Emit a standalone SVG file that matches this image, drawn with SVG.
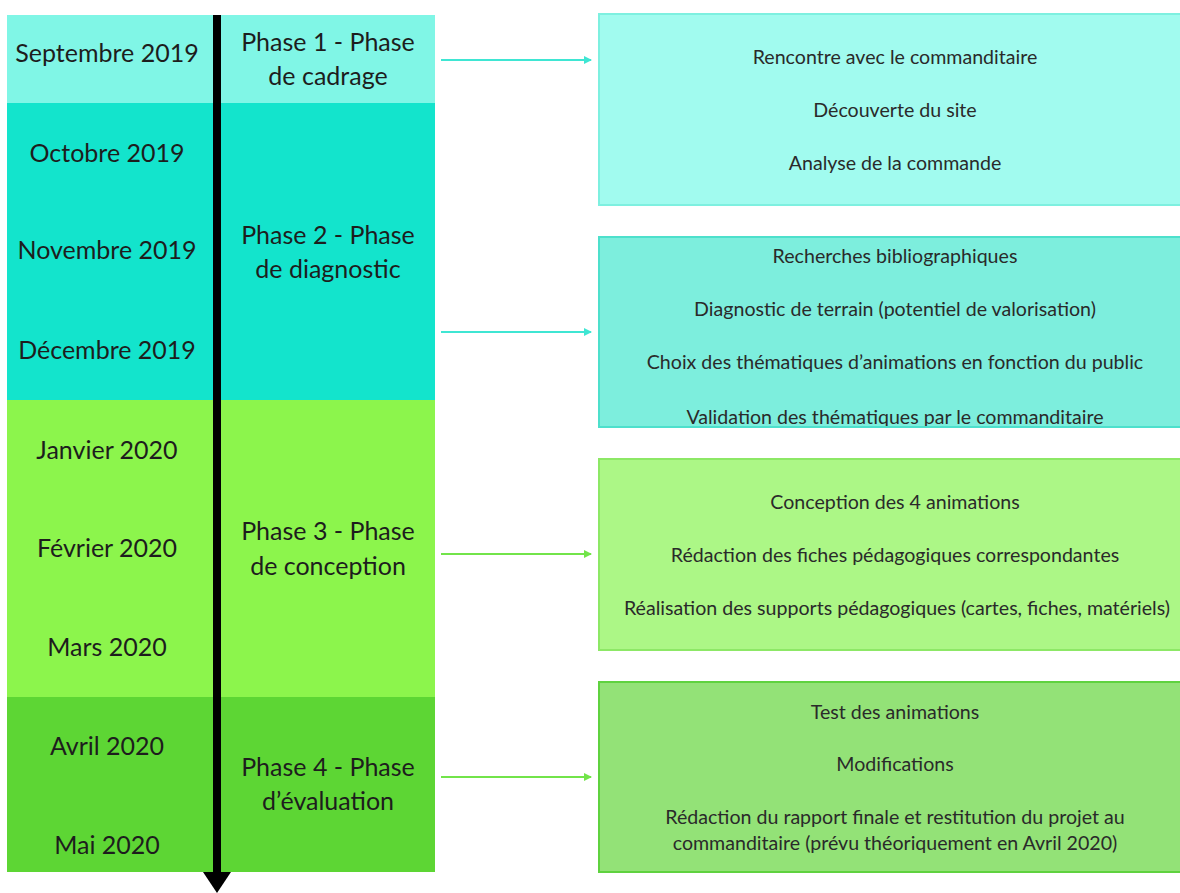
<svg xmlns="http://www.w3.org/2000/svg" width="1180" height="893" viewBox="0 0 1180 893">
<defs>
<style>
.m{font-family:Lato,"Open Sans","Liberation Sans",sans-serif;font-size:25px;fill:#1d1d1d;text-anchor:middle}
.t{font-family:Lato,"Open Sans","Liberation Sans",sans-serif;font-size:19.6px;fill:#2a2a2a;text-anchor:middle}
.tealc{stroke:#3fe6d3;stroke-width:2;fill:none}
.greenc{stroke:#72e44a;stroke-width:2;fill:none}
</style>
<marker id="ah1" markerWidth="8" markerHeight="8" refX="7" refY="4" orient="auto" markerUnits="userSpaceOnUse"><path d="M0,0 L8,4 L0,8 Z" fill="#3fe6d3"/></marker>
<marker id="ah2" markerWidth="8" markerHeight="8" refX="7" refY="4" orient="auto" markerUnits="userSpaceOnUse"><path d="M0,0 L8,4 L0,8 Z" fill="#72e44a"/></marker>
</defs>
<rect width="1180" height="893" fill="#ffffff"/>

<g id="phase1">
<rect x="7" y="15" width="206" height="88" fill="#80f6e6"/>
<rect x="221" y="15" width="214" height="88" fill="#80f6e6"/>
<text class="m" x="107" y="62">Septembre 2019</text>
<text class="m" x="328" y="51">Phase 1 - Phase</text>
<text class="m" x="328" y="85">de cadrage</text>
</g>
<g id="phase2">
<rect x="7" y="103" width="206" height="297" fill="#13e4cc"/>
<rect x="221" y="103" width="214" height="297" fill="#13e4cc"/>
<text class="m" x="107" y="162">Octobre 2019</text>
<text class="m" x="107" y="259">Novembre 2019</text>
<text class="m" x="107" y="359">Décembre 2019</text>
<text class="m" x="328" y="244">Phase 2 - Phase</text>
<text class="m" x="328" y="278">de diagnostic</text>
</g>
<g id="phase3">
<rect x="7" y="400" width="206" height="297" fill="#8cf54c"/>
<rect x="221" y="400" width="214" height="297" fill="#8cf54c"/>
<text class="m" x="107" y="459">Janvier 2020</text>
<text class="m" x="107" y="557">Février 2020</text>
<text class="m" x="107" y="656">Mars 2020</text>
<text class="m" x="328" y="540">Phase 3 - Phase</text>
<text class="m" x="328" y="575">de conception</text>
</g>
<g id="phase4">
<rect x="7" y="697" width="206" height="175" fill="#5dd634"/>
<rect x="221" y="697" width="214" height="175" fill="#5dd634"/>
<text class="m" x="107" y="755">Avril 2020</text>
<text class="m" x="107" y="854">Mai 2020</text>
<text class="m" x="328" y="776">Phase 4 - Phase</text>
<text class="m" x="328" y="810">d’évaluation</text>
</g>

<g id="timeline">
<rect x="213" y="15" width="8" height="860" fill="#000000"/>
<path d="M203,872 L231,872 L217,893 Z" fill="#000000"/>
</g>

<g id="box1">
<rect x="599" y="14" width="582" height="191" fill="#a1fbef" stroke="#7ef0e0" stroke-width="2"/>
<text class="t" x="895" y="64">Rencontre avec le commanditaire</text>
<text class="t" x="895" y="117">Découverte du site</text>
<text class="t" x="895" y="170">Analyse de la commande</text>
</g>
<g id="box2">
<rect x="599" y="237" width="582" height="190" fill="#7deedd" stroke="#4de0cc" stroke-width="2"/>
<text class="t" x="895" y="263">Recherches bibliographiques</text>
<text class="t" x="895" y="316">Diagnostic de terrain (potentiel de valorisation)</text>
<text class="t" x="895" y="369">Choix des thématiques d’animations en fonction du public</text>
<svg x="599" y="237" width="582" height="189" overflow="hidden"><text class="t" x="296" y="187">Validation des thématiques par le commanditaire</text></svg>
</g>
<g id="box3">
<rect x="599" y="459" width="582" height="191" fill="#acf786" stroke="#8de866" stroke-width="2"/>
<text class="t" x="895" y="509">Conception des 4 animations</text>
<text class="t" x="895" y="562">Rédaction des fiches pédagogiques correspondantes</text>
<text class="t" x="897" y="615">Réalisation des supports pédagogiques (cartes, fiches, matériels)</text>
</g>
<g id="box4">
<rect x="599" y="682" width="582" height="190" fill="#93e277" stroke="#5fd23f" stroke-width="2"/>
<text class="t" x="895" y="719">Test des animations</text>
<text class="t" x="895" y="771">Modifications</text>
<text class="t" x="895" y="824">Rédaction du rapport finale et restitution du projet au</text>
<text class="t" x="895" y="850">commanditaire (prévu théoriquement en Avril 2020)</text>
</g>

<g id="connectors">
<line class="tealc" x1="441" y1="60" x2="591" y2="60" marker-end="url(#ah1)"/>
<line class="tealc" x1="441" y1="332" x2="591" y2="332" marker-end="url(#ah1)"/>
<line class="greenc" x1="441" y1="554" x2="591" y2="554" marker-end="url(#ah2)"/>
<line class="greenc" x1="441" y1="777" x2="591" y2="777" marker-end="url(#ah2)"/>
</g>
</svg>
